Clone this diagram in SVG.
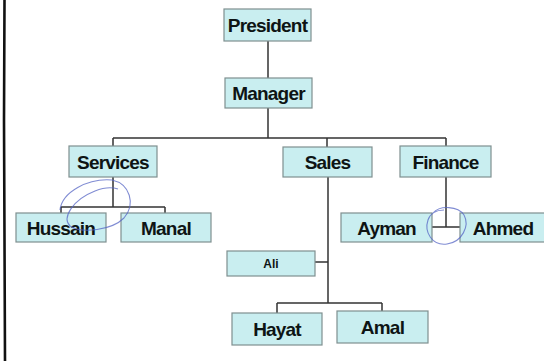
<svg xmlns="http://www.w3.org/2000/svg" width="544" height="361" viewBox="0 0 544 361">
<style>
.box{fill:#c9eef0;stroke:#7f8f8f;stroke-width:1.2}
.lbl{font-family:"Liberation Sans",Arial,sans-serif;font-weight:bold;font-size:19px;fill:#0e1414;text-anchor:middle;letter-spacing:-0.8px}
.small{font-size:12px;letter-spacing:0}
.con{stroke:#333;stroke-width:1.5;fill:none}
.pen{stroke:#5566c4;stroke-width:1.1;fill:none;opacity:0.75}
</style>
<rect width="544" height="361" fill="#ffffff"/>
<path d="M4.5 0 L4 120 L4.5 240 L5 361" stroke="#111" stroke-width="2.6" fill="none"/>
<g id="connectors">
<path class="con" d="M268 41V78M268 108V138M113 138H446M113 138V146M327 138V147M446 138V146"/>
<path class="con" d="M113 177V207M61 207H165M61 207V213M165 207V213"/>
<path class="con" d="M328 177V303M315 262H328M277 303H382M277 303V313M382 303V311"/>
<path class="con" d="M446 177V227M432 227H460"/>
</g>
<g id="president"><rect class="box" x="224" y="9" width="87" height="32"/><text class="lbl" x="267.5" y="32">President</text></g>
<g id="manager"><rect class="box" x="225" y="78" width="87" height="30"/><text class="lbl" x="268.5" y="100">Manager</text></g>
<g id="services"><rect class="box" x="69" y="146" width="88" height="31"/><text class="lbl" x="113" y="169">Services</text></g>
<g id="sales"><rect class="box" x="283" y="147" width="89" height="30"/><text class="lbl" x="327.5" y="169">Sales</text></g>
<g id="finance"><rect class="box" x="400" y="146" width="91" height="31"/><text class="lbl" x="445.5" y="169">Finance</text></g>
<g id="hussain"><rect class="box" x="16" y="213" width="90" height="29"/><text class="lbl" x="61" y="235">Hussain</text></g>
<g id="manal"><rect class="box" x="121" y="213" width="90" height="29"/><text class="lbl" x="166" y="235">Manal</text></g>
<g id="ayman"><rect class="box" x="341" y="213" width="91" height="29"/><text class="lbl" x="386.5" y="235">Ayman</text></g>
<g id="ahmed"><rect class="box" x="460" y="213" width="86" height="29"/><text class="lbl" x="503" y="235">Ahmed</text></g>
<g id="ali"><rect class="box" x="227" y="251" width="88" height="25"/><text class="lbl small" x="271" y="268">Ali</text></g>
<g id="hayat"><rect class="box" x="232" y="313" width="90" height="32"/><text class="lbl" x="277" y="336">Hayat</text></g>
<g id="amal"><rect class="box" x="337" y="311" width="91" height="32"/><text class="lbl" x="382.5" y="334">Amal</text></g>
<path class="pen" d="M60 210 C 62 192, 88 178, 112 180 C 130 184, 136 204, 124 218 C 112 230, 82 234, 70 226 C 62 218, 72 200, 95 191 C 105 187, 112 187, 118 189"/>
<path class="pen" d="M433 213 C 440 205, 458 206, 464 215 C 470 226, 462 242, 447 244 C 432 246, 424 232, 428 220 C 430 214, 436 210, 444 210"/>
</svg>
